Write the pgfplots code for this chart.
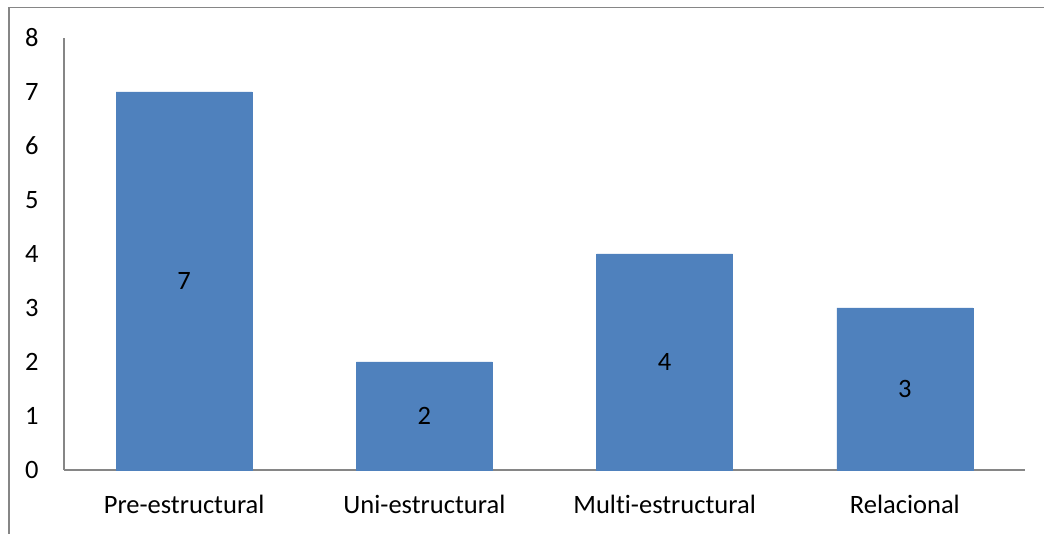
\documentclass[border=0pt]{standalone}
\usepackage{pgfplots}
\pgfplotsset{compat=1.18}
\usepackage{fontspec}
\setmainfont{Carlito}[Ligatures=NoCommon]
\definecolor{barblue}{HTML}{4F81BD}
\definecolor{axgray}{HTML}{868686}
\begin{document}
\begin{tikzpicture}
\begin{axis}[
  scale only axis, width=961pt, height=432pt,
  xmin=-0.5, xmax=3.5, ymin=0, ymax=8,
  axis lines*=left,
  axis line style={axgray, line width=1.5pt},
  xtick={0,1,2,3},
  xticklabels={Pre-estructural,Uni-estructural,Multi-estructural,Relacional},
  ytick={0,1,...,8},
  major tick length=0pt,
  tick style={draw=none},
  ticklabel style={font=\fontsize{26.5}{30}\selectfont},
  /pgf/number format/assume math mode=true,
  yticklabel style={anchor=east, xshift=-22pt},
  xticklabel style={anchor=north, yshift=-22pt},
  ybar, bar width=136pt,
  clip=false,
  nodes near coords,
  visualization depends on={rawy \as \myy},
  every node near coord/.append style={anchor=center, yshift=-\myy*27pt, font=\fontsize{26.5}{30}\selectfont, black},
]
\addplot[fill=barblue, draw=barblue] coordinates {(0,7) (1,2) (2,4) (3,3)};
\coordinate (O) at (rel axis cs:0,0);
\end{axis}
\pgfresetboundingbox
\path[use as bounding box, shift={(O)}] (-64pt,-64pt) rectangle (980pt,470pt);
\draw[axgray, line width=1.5pt, shift={(O)}] (-55pt,-64pt) -- (-55pt,462.5pt) -- (980pt,462.5pt);
\end{tikzpicture}
\end{document}
